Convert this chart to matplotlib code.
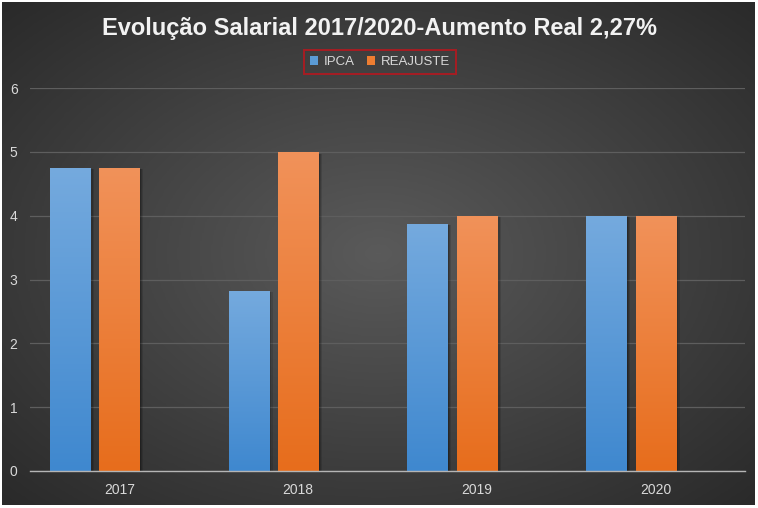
import numpy as np
import matplotlib
matplotlib.use("Agg")
import matplotlib.pyplot as plt
from matplotlib.colors import LinearSegmentedColormap
from matplotlib.patches import Rectangle

categories = ["2017", "2018", "2019", "2020"]
ipca = [4.75, 2.82, 3.87, 4.0]
reajuste = [4.75, 4.99, 4.0, 4.0]
series_names = ["IPCA", "REAJUSTE"]
title = "Evolução Salarial 2017/2020-Aumento Real 2,27%"
yticks = [0, 1, 2, 3, 4, 5, 6]

plt.rcParams['font.family'] = ['Liberation Sans Narrow', 'Liberation Sans', 'DejaVu Sans']

W, H = 758, 508
fig = plt.figure(figsize=(W / 100, H / 100), dpi=100)
fig.patch.set_facecolor("white")

# background radial gradient
bg = fig.add_axes([2 / W, 3 / H, (W - 5) / W, (H - 5) / H])
yy, xx = np.mgrid[0:1:300j, 0:1:450j]
r = np.sqrt(((xx - 0.5) / 0.75) ** 2 + ((yy - 0.5) / 0.75) ** 2)
r = np.clip(r / 0.95, 0, 1)
bgcmap = LinearSegmentedColormap.from_list("bg", ["#5a5a5a", "#2a2a2a"])
bg.imshow(r, cmap=bgcmap, aspect="auto", extent=[0, 1, 0, 1], interpolation="bilinear")
bg.set_axis_off()

ax = fig.add_axes([30 / W, 37 / H, 715 / W, 383 / H])
ax.patch.set_alpha(0)
ax.set_xlim(-0.5, 3.5)
ax.set_ylim(0, 6)

x = np.arange(len(categories))
bw = 0.224
off = 0.277
b1 = ax.bar(x - off, ipca, width=bw, color="#5b9bd5", zorder=3)
b2 = ax.bar(x, reajuste, width=bw, color="#ed7d31", zorder=3)

grads = [("#75aade", "#3f88cf"), ("#f1925a", "#e76d1c")]
for bars, (ctop, cbot) in zip([b1, b2], grads):
    cm = LinearSegmentedColormap.from_list("g", [cbot, ctop])
    for p in bars:
        x0, y0 = p.get_x(), p.get_y()
        w, h = p.get_width(), p.get_height()
        # soft shadow
        for k, a in [(0.022, 0.12), (0.015, 0.15), (0.008, 0.18)]:
            sh = Rectangle((x0 + k, y0), w, h - 0.02, facecolor="black", alpha=a,
                           edgecolor="none", zorder=2)
            ax.add_patch(sh)
        grad = np.linspace(0, 1, 256).reshape(-1, 1)
        im = ax.imshow(grad, cmap=cm, aspect="auto", origin="lower",
                       extent=[x0, x0 + w, y0, y0 + h], zorder=4, interpolation="bilinear")
        im.set_clip_path(p)

ax.set_xlim(-0.5, 3.5)
ax.set_ylim(0, 6)
ax.set_yticks(yticks)
ax.set_xticks(x)
ax.set_xticklabels(categories)
ax.grid(axis="y", color="#5e5e5e", linewidth=0.9, zorder=1)
ax.set_axisbelow(True)
for s in ["top", "right", "left"]:
    ax.spines[s].set_visible(False)
ax.spines["bottom"].set_color("#b5b5b5")
ax.spines["bottom"].set_linewidth(1.0)
ax.spines["bottom"].set_zorder(5)
ax.tick_params(axis="both", length=0, colors="#d9d9d9", labelsize=10)
ax.tick_params(axis="y", pad=9)
ax.tick_params(axis="x", pad=9)

fig.text(380 / W, 1 - 28 / H, title, ha="center", va="center", fontsize=17,
         fontweight="bold", color="#f2f2f2")

handles = [Rectangle((0, 0), 1, 1, facecolor="#5b9bd5"), Rectangle((0, 0), 1, 1, facecolor="#ed7d31")]
leg = fig.legend(handles, series_names, loc="center", bbox_to_anchor=(380 / W, 1 - 62 / H),
                 ncol=2, frameon=True, fontsize=9.5, handlelength=0.6, handleheight=0.6,
                 handletextpad=0.4, columnspacing=1.0, borderpad=0.45, fancybox=False,
                 labelcolor="#d9d9d9")
leg.get_frame().set_facecolor("none")
leg.get_frame().set_edgecolor("#c0141c")
leg.get_frame().set_linewidth(1.4)

fig.savefig("out.png", dpi=100, facecolor=fig.get_facecolor())
